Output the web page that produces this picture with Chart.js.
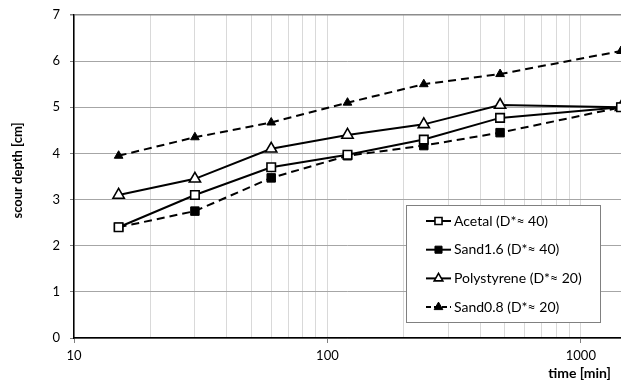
<!DOCTYPE html>
<html>
<head>
<meta charset="utf-8">
<script src="https://cdn.jsdelivr.net/npm/chart.js@4/dist/chart.umd.min.js"></script>
<style>
  html, body { margin: 0; padding: 0; background: #fff; overflow: hidden; }
  canvas { display: block; }
</style>
</head>
<body>
<canvas id="scourChart" width="621" height="380"></canvas>
<script>
// Scour depth vs. time, log time axis
const times = [15, 30, 60, 120, 240, 480, 1440];
const acetal = [2.4, 3.1, 3.7, 3.97, 4.3, 4.77, 5.0];
const sand16 = [2.4, 2.75, 3.47, 3.95, 4.17, 4.45, 5.0];
const polystyrene = [3.1, 3.45, 4.1, 4.4, 4.63, 5.05, 5.0];
const sand08 = [3.95, 4.35, 4.67, 5.1, 5.5, 5.72, 6.22];

const seriesLabels = ['Acetal (D*\u2248 40)', 'Sand1.6 (D*\u2248 40)', 'Polystyrene (D*\u2248 20)', 'Sand0.8 (D*\u2248 20)'];
const xMajorTicks = [10, 100, 1000];
const yTicks = [0, 1, 2, 3, 4, 5, 6, 7];

const FONT = 'Lato, "Open Sans", sans-serif';

function toPoints(values) {
  return values.map((v, i) => ({ x: times[i], y: v }));
}

// every 1..9 multiple per decade, for the minor grid
function logGridValues() {
  const vals = [];
  for (let dec = 10; dec < 1000; dec *= 10) {
    for (let m = 1; m < 10; m++) vals.push(dec * m);
  }
  vals.push(1000);
  return vals;
}

const datasets = [
  {
    label: seriesLabels[0], data: toPoints(acetal),
    borderColor: '#000', backgroundColor: '#fff', borderWidth: 2,
    pointStyle: 'rect', pointRadius: 6, pointBorderWidth: 1.6,
    pointBackgroundColor: '#fff', pointBorderColor: '#000',
  },
  {
    label: seriesLabels[1], data: toPoints(sand16),
    borderColor: '#000', backgroundColor: '#000', borderWidth: 2, borderDash: [8, 5],
    pointStyle: 'rect', pointRadius: 6, pointBorderWidth: 1,
    pointBackgroundColor: '#000', pointBorderColor: '#000',
  },
  {
    label: seriesLabels[2], data: toPoints(polystyrene),
    borderColor: '#000', backgroundColor: '#fff', borderWidth: 2,
    pointStyle: 'triangle', pointRadius: 6.5, pointBorderWidth: 1.6,
    pointBackgroundColor: '#fff', pointBorderColor: '#000',
  },
  {
    label: seriesLabels[3], data: toPoints(sand08),
    borderColor: '#000', backgroundColor: '#000', borderWidth: 2, borderDash: [8, 5],
    pointStyle: 'triangle', pointRadius: 5, pointBorderWidth: 1,
    pointBackgroundColor: '#000', pointBorderColor: '#000',
  },
];

// Boxed legend inside the plot and the two axis titles
const decorPlugin = {
  id: 'decor',
  afterDraw(chart) {
    const ctx = chart.ctx;
    const area = chart.chartArea;

    // legend box
    const bx = 406, by = 205, bw = 194, bh = 117;
    ctx.save();
    ctx.fillStyle = '#fff';
    ctx.fillRect(bx, by, bw, bh);
    ctx.strokeStyle = '#808080';
    ctx.lineWidth = 1;
    ctx.strokeRect(bx + 0.5, by + 0.5, bw, bh);

    chart.data.datasets.forEach((ds, i) => {
      const y = by + 16 + i * 28.7;
      ctx.strokeStyle = ds.borderColor;
      ctx.lineWidth = 2;
      ctx.setLineDash(ds.borderDash && ds.pointStyle === 'triangle' ? [5, 3] : []);
      ctx.beginPath();
      ctx.moveTo(426, y);
      ctx.lineTo(451, y);
      ctx.stroke();
      ctx.setLineDash([]);
      ctx.fillStyle = ds.pointBackgroundColor;
      ctx.strokeStyle = ds.pointBorderColor;
      ctx.lineWidth = ds.pointBorderWidth;
      Chart.helpers.drawPoint(ctx, {
        pointStyle: ds.pointStyle,
        radius: 5,
        borderWidth: ds.pointBorderWidth,
        rotation: 0,
      }, 438.5, y);
      ctx.fillStyle = '#000';
      ctx.font = '14px ' + FONT;
      ctx.textAlign = 'left';
      ctx.textBaseline = 'middle';
      ctx.fillText(ds.label, 454, y);
    });

    // axis titles
    ctx.fillStyle = '#000';
    ctx.font = 'bold 14px ' + FONT;
    ctx.textAlign = 'right';
    ctx.textBaseline = 'middle';
    ctx.fillText('time [min]', 611, 373);

    ctx.font = 'bold 13px ' + FONT;
    ctx.translate(18, (area.top + area.bottom) / 2 - 6);
    ctx.rotate(-Math.PI / 2);
    ctx.textAlign = 'center';
    ctx.fillText('scour depth [cm]', 0, 0);
    ctx.restore();
  },
};

new Chart(document.getElementById('scourChart'), {
  type: 'line',
  data: { datasets: datasets },
  options: {
    responsive: false,
    animation: false,
    layout: { autoPadding: false, padding: { top: 15, right: 0, bottom: 0, left: 0 } },
    plugins: {
      legend: { display: false },
      tooltip: { enabled: false },
    },
    elements: { line: { tension: 0 } },
    scales: {
      x: {
        type: 'logarithmic',
        min: 10,
        max: 1440,
        afterBuildTicks: (scale) => {
          scale.ticks = logGridValues().map((v) => ({ value: v }));
        },
        afterFit: (scale) => {
          scale.height = 42;
          scale.paddingRight = 0;
          scale.paddingLeft = 0;
        },
        ticks: {
          autoSkip: false,
          maxRotation: 0,
          padding: 5,
          color: '#000',
          font: { family: FONT, size: 13 },
          callback: (value) => (xMajorTicks.includes(value) ? String(value) : ''),
        },
        grid: {
          color: '#d9d9d9',
          lineWidth: 1,
          tickLength: 5,
          tickColor: (c) => (xMajorTicks.includes(c.tick && c.tick.value) ? '#808080' : 'rgba(0,0,0,0)'),
        },
        border: { color: '#000', width: 1.5 },
      },
      y: {
        min: 0,
        max: 7,
        afterBuildTicks: (scale) => {
          scale.ticks = yTicks.map((v) => ({ value: v }));
        },
        afterFit: (scale) => {
          scale.width = 74;
          scale.paddingTop = 0;
          scale.paddingBottom = 0;
        },
        ticks: {
          padding: 10,
          color: '#000',
          font: { family: FONT, size: 13 },
        },
        grid: {
          color: (c) => (c.tick && c.tick.value === 7 ? '#8c8c8c' : '#a6a6a6'),
          lineWidth: (c) => (c.tick && c.tick.value === 7 ? 1.5 : 1),
          tickLength: 4,
          tickColor: '#808080',
        },
        border: { color: '#000', width: 1.5 },
      },
    },
  },
  plugins: [decorPlugin],
});
</script>
</body>
</html>
